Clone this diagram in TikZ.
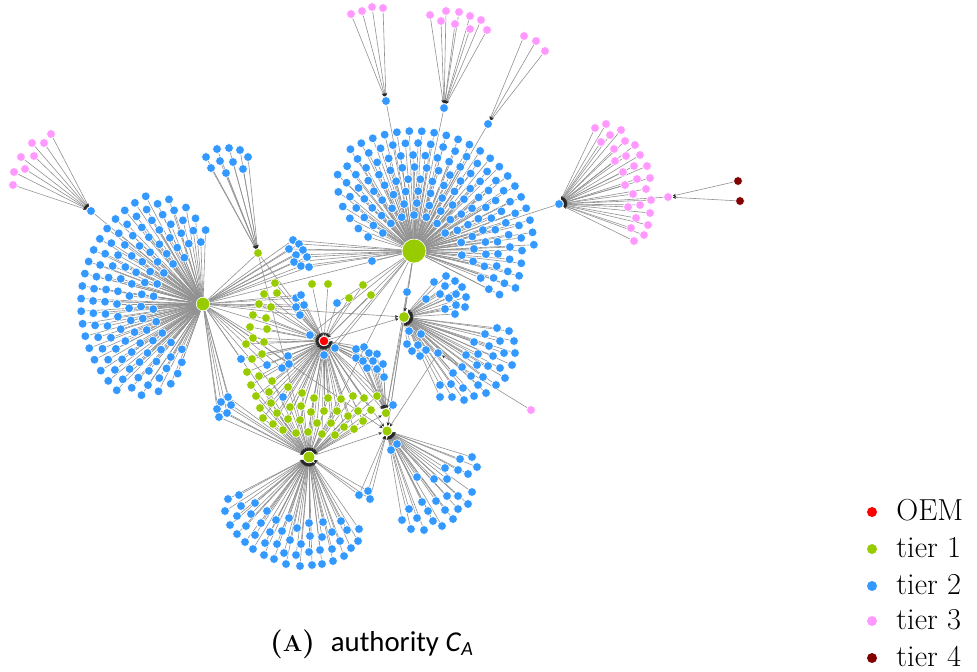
\documentclass[tikz,border=0pt]{standalone}
\usepackage{fontspec}
\usepackage{graphicx}
\newfontfamily\capfont{Carlito}
\usetikzlibrary{arrows.meta}
\definecolor{oemred}{RGB}{255,0,0}
\definecolor{tierone}{RGB}{153,204,0}
\definecolor{tiertwo}{RGB}{51,153,255}
\definecolor{tierthree}{RGB}{255,153,255}
\definecolor{tierfour}{RGB}{128,0,0}
\definecolor{edgegray}{RGB}{145,145,145}
\pgfdeclarelayer{edges}
\pgfsetlayers{edges,main}
\tikzset{
  dot/.style={circle,draw=white,line width=0.3pt,inner sep=0pt,minimum size=4.4pt},
  t0/.style={dot,fill=oemred},
  t1/.style={dot,fill=tierone},
  t2/.style={dot,fill=tiertwo},
  t3/.style={dot,fill=tierthree},
  t4/.style={dot,fill=tierfour},
  link/.style={draw=edgegray,line width=0.3pt},
  into/.style={link,-{Stealth[length=1.7pt,width=1.5pt,color=black!85]}},
  legdot/.style={circle,inner sep=0pt,minimum size=5pt},
  legtext/.style={anchor=base west,font=\fontsize{15.2}{18}\selectfont,inner sep=0pt},
}
% dots of a group: #1 style, #2 name prefix, #3 list macro of x/y
\newcommand\groupdots[3]{%
  \foreach \px/\py [count=\i] in #3 {\node[#1] (#2-\i) at (\px,\py) {};}}
% links of a group to a hub: #1 prefix, #2 list macro, #3 edge style, #4 hub
\newcommand\grouplinks[4]{%
  \foreach \px/\py [count=\i] in #2 {\draw[#3] (#1-\i) -- (#4);}}
% rings of tier-2 dots around a hub
\newcommand\ringdots[6]{% hub, cx, cy, r, a1, a2
  \pgfmathtruncatemacro\nfan{max(1,round(#4/12.5*(#6-(#5))/180*pi))}%
  \foreach \k in {0,...,\nfan}{%
    \pgfmathsetmacro\ang{#5+(#6-(#5))*\k/\nfan}%
    \node[t2] (#1-#4-\k) at ({#2+#4*cos(\ang)},{#3-#4*sin(\ang)}) {};
  }}
\newcommand\ringlinks[4]{% hub, r, a1, a2
  \pgfmathtruncatemacro\nfan{max(1,round(#2/12.5*(#4-(#3))/180*pi))}%
  \foreach \k in {0,...,\nfan}{\draw[link] (#1-#2-\k) -- (#1);}}

% ---- positions of the leaf groups ----
\def\ringsA{122/118/225,110/108/236,98/100/243,86/95/248,74/88/250,62/92/250,50/112/245}
\def\ringsB{120/3/122,108/-20/135,96/-27/142,84/-27/148,72/-22/153,60/-10/158,48/-5/163,36/30/150}
\def\lsHtwo{372/261}
\def\lsHfour{228/499,239/495,225/511,241/506,255/503,267/511,237/516,251/514,230/525,246/526,261/523,276/520,289/518,237/534,255/535,270/532,282/531,297/528,309/523,323/522,341/521,359/529,347/530,332/532,322/537,310/536,245/542,265/543,277/544,290/540,301/544,340/541,358/541,253/549,264/555,274/559,284/553,296/555,309/552,320/550,332/549,351/548,344/556,333/561,322/564,312/565,300/566,286/564}
\def\lsHfive{472/457,477/467,460/459,445/468,458/470,468/474,417/477,434/479,447/479,472/492,458/496,447/496,468/504,458/509,445/510,436/501,422/502,409/509,428/511,453/519,442/526,433/521,424/530,417/518,402/520,411/529,397/444,391/450}
\def\lsHthree{434/282,446/276,455/281,462/287,445/286,440/294,449/298,456/294,466/297,445/309,456/305,465/307,455/314,426/299,407/292,497/328,509/331,485/334,500/341,514/341,474/342,489/346,504/353,515/353,478/354,493/356,466/355,512/365,500/368,488/366,477/365,462/367,453/373,471/376,483/377,505/378,496/385,478/385,486/393,474/396,464/400,452/397,440/397,440/385,451/384,463/388,409/331,421/334,407/344,418/345,426/350,412/351,420/356}
\def\lsGa{275/283,264/294,277/293,259/304,271/307,253/315,266/318,250/327,267/329,253/338,264/342,246/344,262/354,252/359,247/372,259/376,312/284,328/284,349/298,363/285,371/295}
\def\lsGb{272/381,251/385,269/392,256/396,260/408,271/403,277/413,263/418,273/424,283/430,288/419,290/407,301/406,302/393,288/387,314/398,328/398,341/399,353/396,364/398,377/396,311/412,324/411,337/411,348/416,358/411,371/410,300/420,317/423,331/423,344/427,354/429,363/421,296/433,308/432,322/434,335/435}
\def\lsCa{293/240,289/249,299/244,303/250,307/257,296/255,294/262,301/266,309/267}
\def\lsCb{296/298,301/295,304/305,296/307,300/315}
\def\lsCo{310/335,324/355,335/348,337/303}
\def\lsCd{241/359,267/365,282/368,288/356,289/364,283/397}
\def\lsCc{356/349,364/347,369/353,377/354,356/358,363/361,373/361,367/368,377/369,383/364,384/377,393/405}
\def\lsCe{228/397,221/402,231/405,217/409,227/413,219/417}
\def\lsCf{359/495,368/491,370/499}
\def\lsGseven{206/157,217/149,229/148,240/150,248/157,211/168,220/161,233/162,243/169,226/173}
\def\lsPa{51/134,32/143,44/143,21/157,34/156,14/172,25/169,13/185}
\def\lsPb{351/14,362/11,372/7,383/8}
\def\lsPc{430/15,446/11,459/12,470/16,481/20,487/30,441/21,455/24,470/29}
\def\lsPd{524/36,536/41,545/51}
\def\lsPe{595/128,606/124,610/135,621/130,601/142,625/141,614/149,635/145,626/156,615/161,640/155,634/166,623/172,647/166,637/179,625/185,650/178,646/189,633/194,651/200,628/207,640/205,650/213,636/218,648/225,631/228,644/235,634/241}
\def\lsPf{531/410}
\def\lsM{738/181,740/201}

\begin{document}
\begin{tikzpicture}[x=0.5pt,y=-0.5pt]
\useasboundingbox (0,0) rectangle (977,671);

% ---------- hubs ----------
\node[t1,minimum size=6.8pt] (H1) at (203,304) {};
\node[t1,minimum size=12pt]  (H2) at (414,251) {};
\node[t1,minimum size=5.4pt] (H3) at (404,317) {};
\node[t0,minimum size=4.8pt] (O)  at (324,341) {};
\node[t1,minimum size=5.8pt] (H4) at (309,457) {};
\node[t1,minimum size=5pt]   (H5) at (387,431) {};
\node[t1,minimum size=4.6pt] (H6) at (386,413) {};
\node[t1] (G7) at (258,253) {};
\node[t2] (B1) at (91,211) {};
\node[t2] (B2) at (386,101) {};
\node[t2] (B3) at (444,108) {};
\node[t2] (B4) at (488,124) {};
\node[t2] (B5) at (559,204) {};
\node[t2] (B6) at (438,353) {};
\node[t3] (Q1) at (668,197) {};

% ---------- leaf dots ----------
\foreach \r/\a/\b in \ringsA {\ringdots{H1}{203}{304}{\r}{\a}{\b}}
\foreach \r/\a/\b in \ringsB {\ringdots{H2}{414}{251}{\r}{\a}{\b}}
\groupdots{t2}{h2x}{\lsHtwo}
\groupdots{t2}{h4}{\lsHfour}
\groupdots{t2}{h5}{\lsHfive}
\groupdots{t2}{h3}{\lsHthree}
\groupdots{t1}{ga}{\lsGa}
\groupdots{t1}{gb}{\lsGb}
\groupdots{t2}{ca}{\lsCa}
\groupdots{t2}{cb}{\lsCb}
\groupdots{t2}{co}{\lsCo}
\groupdots{t2}{cd}{\lsCd}
\groupdots{t2}{cc}{\lsCc}
\groupdots{t2}{ce}{\lsCe}
\groupdots{t2}{cf}{\lsCf}
\groupdots{t2}{g7}{\lsGseven}
\groupdots{t3}{p1}{\lsPa}
\groupdots{t3}{p2}{\lsPb}
\groupdots{t3}{p3}{\lsPc}
\groupdots{t3}{p4}{\lsPd}
\groupdots{t3}{p5}{\lsPe}
\groupdots{t3}{p6}{\lsPf}
\groupdots{t4}{m}{\lsM}

% ---------- all connectors, behind the dots ----------
\begin{pgfonlayer}{edges}
\draw[link] (H1) -- (H2);
\draw[into] (H1) -- (O);
\draw[into] (H2) -- (O);
\draw[into] (H1) -- (H3);
\draw[into] (H2) -- (H3);
\draw[into] (H1) -- (H4);
\draw[into] (H2) -- (H4);
\draw[into] (O) -- (H4);
\draw[into] (O) -- (H3);
\draw[into] (H2) -- (H5);
\draw[into] (H2) -- (H6);
\draw[into] (O) -- (H5);
\draw[into] (O) -- (H6);
\draw[into] (H3) -- (H5);
\draw[into] (H3) -- (H6);
\draw[into] (H4) -- (H5);
\draw[into] (H4) -- (H6);
\draw[into] (H1) -- (H5);
\draw[link] (B1) -- (H1);
\draw[link] (B2) -- (H2);
\draw[link] (B3) -- (H2);
\draw[link] (B4) -- (H2);
\draw[link] (B5) -- (H2);
\draw[into] (G7) -- (O);
\draw[into] (G7) -- (H4);
\draw[link] (G7) -- (H1);
\draw[into] (Q1) -- (B5);
\draw[into] (B6) -- (H5);
\draw[into] (B6) -- (H3);
\foreach \r/\a/\b in \ringsA {\ringlinks{H1}{\r}{\a}{\b}}
\foreach \r/\a/\b in \ringsB {\ringlinks{H2}{\r}{\a}{\b}}
\grouplinks{h2x}{\lsHtwo}{link}{H2}
\grouplinks{h4}{\lsHfour}{into}{H4}
\grouplinks{h5}{\lsHfive}{into}{H5}
\grouplinks{h3}{\lsHthree}{into}{H3}
\grouplinks{ga}{\lsGa}{into}{O}
\grouplinks{gb}{\lsGb}{into}{O}
\grouplinks{gb}{\lsGb}{into}{H4}
\grouplinks{ca}{\lsCa}{link}{H1}
\grouplinks{ca}{\lsCa}{link}{H2}
\grouplinks{cb}{\lsCb}{link}{H1}
\grouplinks{cb}{\lsCb}{into}{O}
\grouplinks{co}{\lsCo}{into}{O}
\grouplinks{co}{\lsCo}{link}{H2}
\grouplinks{cd}{\lsCd}{into}{O}
\grouplinks{cd}{\lsCd}{link}{H1}
\grouplinks{cc}{\lsCc}{into}{O}
\grouplinks{cc}{\lsCc}{into}{H6}
\grouplinks{ce}{\lsCe}{link}{H1}
\grouplinks{ce}{\lsCe}{into}{H4}
\grouplinks{cf}{\lsCf}{into}{H4}
\grouplinks{cf}{\lsCf}{into}{H5}
\grouplinks{g7}{\lsGseven}{into}{G7}
\grouplinks{p1}{\lsPa}{into}{B1}
\grouplinks{p2}{\lsPb}{into}{B2}
\grouplinks{p3}{\lsPc}{into}{B3}
\grouplinks{p4}{\lsPd}{into}{B4}
\grouplinks{p5}{\lsPe}{into}{B5}
\grouplinks{p6}{\lsPf}{into}{B6}
\grouplinks{m}{\lsM}{into}{Q1}
\end{pgfonlayer}

% ---------- legend ----------
\node[legdot,fill=oemred]    (k0) at (872,512) {};
\node[legdot,fill=tierone]   (k1) at (872,549) {};
\node[legdot,fill=tiertwo]   (k2) at (872,586) {};
\node[legdot,fill=tierthree] (k3) at (872,621) {};
\node[legdot,fill=tierfour]  (k4) at (872,658) {};
\node[legtext] (l0) at (896,520) {OEM};
\node[legtext] (l1) at (896,557) {tier 1};
\node[legtext] (l2) at (896,594) {tier 2};
\node[legtext] (l3) at (896,629) {tier 3};
\node[legtext] (l4) at (896,666) {tier 4};

% ---------- caption ----------
\node[anchor=base,inner sep=0pt] (cap) at (372,651)
  {\fontsize{14.4}{17}\selectfont\textbf{(\scalebox{0.8}{A})}\hspace{0.55em}{\capfont authority \textit{C}\textsubscript{\textit{A}}}};
\end{tikzpicture}
\end{document}
